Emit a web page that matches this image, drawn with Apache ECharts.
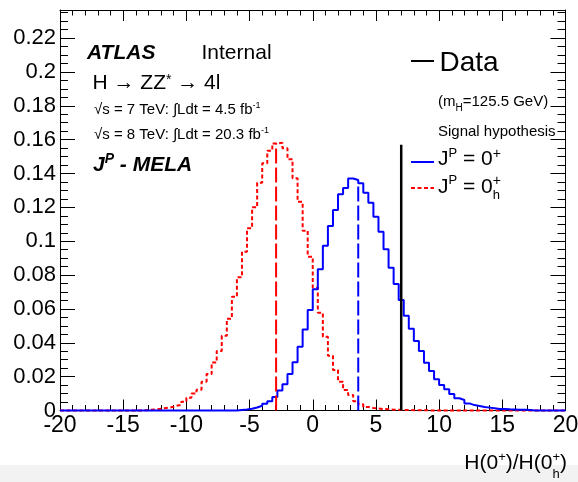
<!DOCTYPE html>
<html><head><meta charset="utf-8">
<script src="https://cdn.jsdelivr.net/npm/echarts@6/dist/echarts.min.js"></script>
<style>html,body{margin:0;padding:0;background:#fff}#c{width:578px;height:482px}</style>
</head><body><div id="c"></div>
<script>
// ---------------- data ----------------
const xMin = -20, xMax = 20, binWidth = 0.4;
const xTickStep = 5;
const yTickStep = 0.02;
const yMinorStep = 0.005;
const yMax = 0.2366;

// J^P = 0+ (SM) pseudo-experiment distribution, bins of 0.4 starting at -6.0
const smFirstEdge = -6.0;
const smValues = [0.0003,0.0006,0.0010,0.0018,0.0028,0.0040,0.0055,0.0080,0.0118,0.0155,
  0.0216,0.0285,0.0377,0.0478,0.0594,0.0717,0.0834,0.0973,0.1090,0.1184,
  0.1277,0.1315,0.1371,0.1362,0.1342,0.1287,0.1228,0.1145,0.1056,0.0952,
  0.0844,0.0747,0.0653,0.0560,0.0483,0.0410,0.0351,0.0282,0.0233,0.0184,
  0.0151,0.0125,0.0097,0.0072,0.0062,0.0042,0.0032,0.0027,0.0021,0.0017,
  0.0013,0.0009,0.0009,0.0007,0.0006,0.0005,0.0004,0.0003];

// J^P = 0h+ distribution, bins of 0.4 starting at -13.6
const altFirstEdge = -13.6;
const altValues = [0.0002,0.0004,0.0007,0.0011,0.0015,0.0019,0.0027,0.0034,0.0052,0.0075,
  0.0100,0.0123,0.0170,0.0215,0.0284,0.0352,0.0441,0.0542,0.0672,0.0787,
  0.0938,0.1076,0.1200,0.1346,0.1460,0.1535,0.1578,0.1582,0.1549,0.1484,
  0.1372,0.1233,0.1062,0.0908,0.0725,0.0578,0.0436,0.0323,0.0239,0.0170,
  0.0121,0.0092,0.0055,0.0037,0.0021,0.0015,0.0012,0.0009,0.0007,0.0005,
  0.0004,0.0003,0.0003,0.0002,0.0002,0.0002,0.0001];

// vertical lines: observed value and medians
const dataObserved = 7.0, dataLineTop = 0.157;
const smMedian = 3.6, smMedianTop = 0.134;
const altMedian = -2.9, altMedianTop = 0.158;

// ---------------- helpers ----------------
const FAM = '"Liberation Sans", Arial, Helvetica, sans-serif';
function histPoints(firstEdge, vals) {
  const nBins = Math.round((xMax - xMin) / binWidth);
  const off = Math.round((firstEdge - xMin) / binWidth);
  const pts = [];
  for (let k = 0; k < nBins; k++) {
    const i = k - off;
    const v = (i >= 0 && i < vals.length) ? vals[i] : 0;
    pts.push([+(xMin + k * binWidth).toFixed(4), v]);
  }
  pts.push([xMax, pts[nBins - 1][1]]);
  return pts;
}
const mctx = document.createElement('canvas').getContext('2d');
function fnt(size, bold, italic) { return (italic ? 'italic ' : '') + (bold ? 'bold ' : '') + size + 'px ' + FAM; }
function tw(text, f) { mctx.font = f; return mctx.measureText(text).width; }
function T(x, base, text, size, o) {
  o = o || {};
  return { type: 'text', x: x, y: base - 0.3465 * size, z: 10, silent: true,
    style: { text: text, font: fnt(size, o.bold, o.italic), fill: o.color || '#000',
             verticalAlign: 'middle', align: 'left' } };
}
function pieceWidth(p) {
  if (p.stack) return Math.max.apply(null, p.stack.map(q => tw(q.t, fnt(q.size, q.bold, q.italic))));
  return tw(p.t, fnt(p.size, p.bold, p.italic));
}
function run(x, base, pieces, alignRight) {
  const els = [];
  let cx = x;
  if (alignRight) cx = x - pieces.reduce((s, p) => s + pieceWidth(p), 0);
  for (const p of pieces) {
    if (p.stack) {
      for (const q of p.stack) els.push(T(cx, base - (q.rise || 0), q.t, q.size, q));
    } else {
      els.push(T(cx, base - (p.rise || 0), p.t, p.size, p));
    }
    cx += pieceWidth(p);
  }
  return els;
}

// ---------------- texts ----------------
const BI = { bold: true, italic: true };
let texts = [];
texts = texts.concat(run(87, 60, [Object.assign({ t: 'ATLAS', size: 21 }, BI)]));
texts.push(T(201.5, 60, 'Internal', 21));
texts = texts.concat(run(92.5, 90.5, [{ t: 'H \u2192 ZZ', size: 21 }, { t: '*', size: 14, rise: 6 }, { t: ' \u2192 4l', size: 21 }]));
texts = texts.concat(run(94, 115, [{ t: '\u221As = 7 TeV: \u222BLdt = 4.5 fb', size: 15 }, { t: '-1', size: 9, rise: 6 }]));
texts = texts.concat(run(94, 140, [{ t: '\u221As = 8 TeV: \u222BLdt = 20.3 fb', size: 15 }, { t: '-1', size: 9, rise: 6 }]));
texts = texts.concat(run(93, 172, [Object.assign({ t: 'J', size: 21 }, BI), Object.assign({ t: 'P', size: 14, rise: 8 }, BI), Object.assign({ t: ' - MELA', size: 21 }, BI)]));
texts.push(T(439.5, 72.7, 'Data', 28));
texts = texts.concat(run(438, 107.3, [{ t: '(m', size: 15 }, { t: 'H', size: 10, rise: -4 }, { t: '=125.5 GeV)', size: 15 }]));
texts.push(T(438, 136.7, 'Signal hypothesis', 15));
texts = texts.concat(run(438, 166.7, [{ t: 'J', size: 21 }, { t: 'P', size: 13, rise: 9 }, { t: ' = 0', size: 21 }, { t: '+', size: 14, rise: 8 }]));
texts = texts.concat(run(438, 194.3, [{ t: 'J', size: 21 }, { t: 'P', size: 13, rise: 9 }, { t: ' = 0', size: 21 },
  { stack: [{ t: '+', size: 14, rise: 8 }, { t: 'h', size: 13, rise: -6 }] }]));
texts = texts.concat(run(567, 470.7, [{ t: 'H(0', size: 21 }, { t: '+', size: 13, rise: 9 }, { t: ')/H(0', size: 21 },
  { stack: [{ t: '+', size: 13, rise: 9 }, { t: 'h', size: 13, rise: -8 }] }, { t: ')', size: 21 }], true));

const bottomBand = { type: 'rect', z: 0, silent: true, shape: { x: 0, y: 465, width: 578, height: 17 }, style: { fill: '#f2f2f2' } };

// ---------------- chart ----------------
const chart = echarts.init(document.getElementById('c'), null, { renderer: 'canvas' });
const black = '#000';
function xAx(pos, labels) {
  return { type: 'value', position: pos, min: xMin, max: xMax, interval: xTickStep,
    axisLine: { show: true, onZero: false, lineStyle: { color: black, width: 1 } },
    axisTick: { show: true, inside: true, length: 11, lineStyle: { color: black, width: 1 } },
    minorTick: { show: true, splitNumber: 5, length: 5.5, lineStyle: { color: black, width: 1 } },
    axisLabel: { show: labels, fontSize: 23, color: black, fontFamily: FAM, margin: 4 },
    splitLine: { show: false }, minorSplitLine: { show: false } };
}
function yAx(pos, step, len, labels, line) {
  return { type: 'value', position: pos, min: 0, max: yMax, interval: step,
    axisLine: { show: line, onZero: false, lineStyle: { color: black, width: 1 } },
    axisTick: { show: true, inside: true, length: len, lineStyle: { color: black, width: 1 } },
    axisLabel: { show: labels, fontSize: 22, color: black, fontFamily: FAM, margin: 4, showMaxLabel: false },
    splitLine: { show: false } };
}
function legendAt(name, top, width) {
  return { data: [name], left: 410, top: top, padding: 0, itemWidth: 23, itemHeight: 14, selectedMode: false,
    formatter: () => '', lineStyle: { width: width },
    itemStyle: { color: 'rgba(0,0,0,0)', borderWidth: 0, opacity: 0 } };
}
const option = {
  animation: false,
  backgroundColor: '#ffffff',
  grid: { left: 60, right: 12.5, top: 10, bottom: 71.5, containLabel: false, outerBoundsMode: 'none' },
  xAxis: [xAx('bottom', true), xAx('top', false)],
  yAxis: [yAx('left', yTickStep, 15, true, true), yAx('left', yMinorStep, 8, false, false),
          yAx('right', yTickStep, 15, false, true), yAx('right', yMinorStep, 8, false, false)],
  legend: [legendAt('Data', 54, 2), legendAt('sm', 155, 2), legendAt('alt', 181, 2)],
  series: [
    { name: 'alt', type: 'line', step: 'end', symbol: 'none', clip: false, z: 2,
      xAxisIndex: 0, yAxisIndex: 0,
      lineStyle: { color: '#ff0000', width: 2, type: [4, 2.5] }, itemStyle: { color: '#ff0000' },
      data: histPoints(altFirstEdge, altValues) },
    { name: 'sm', type: 'line', step: 'end', symbol: 'none', clip: false, z: 3,
      xAxisIndex: 0, yAxisIndex: 0,
      lineStyle: { color: '#0000ff', width: 2 }, itemStyle: { color: '#0000ff' },
      data: histPoints(smFirstEdge, smValues) },
    { name: 'altMedian', type: 'line', symbol: 'none', z: 4, xAxisIndex: 0, yAxisIndex: 0,
      lineStyle: { color: '#ff0000', width: 2, type: [15, 4] },
      data: [[altMedian, 0], [altMedian, altMedianTop]] },
    { name: 'smMedian', type: 'line', symbol: 'none', z: 4, xAxisIndex: 0, yAxisIndex: 0,
      lineStyle: { color: '#0000ff', width: 2, type: [15, 4] },
      data: [[smMedian, 0], [smMedian, smMedianTop]] },
    { name: 'Data', type: 'line', symbol: 'none', z: 5, xAxisIndex: 0, yAxisIndex: 0,
      lineStyle: { color: '#000000', width: 2.5 }, itemStyle: { color: '#000000' },
      data: [[dataObserved, 0], [dataObserved, dataLineTop]] }
  ],
  graphic: [bottomBand].concat(texts)
};
chart.setOption(option);
</script>
</body></html>
